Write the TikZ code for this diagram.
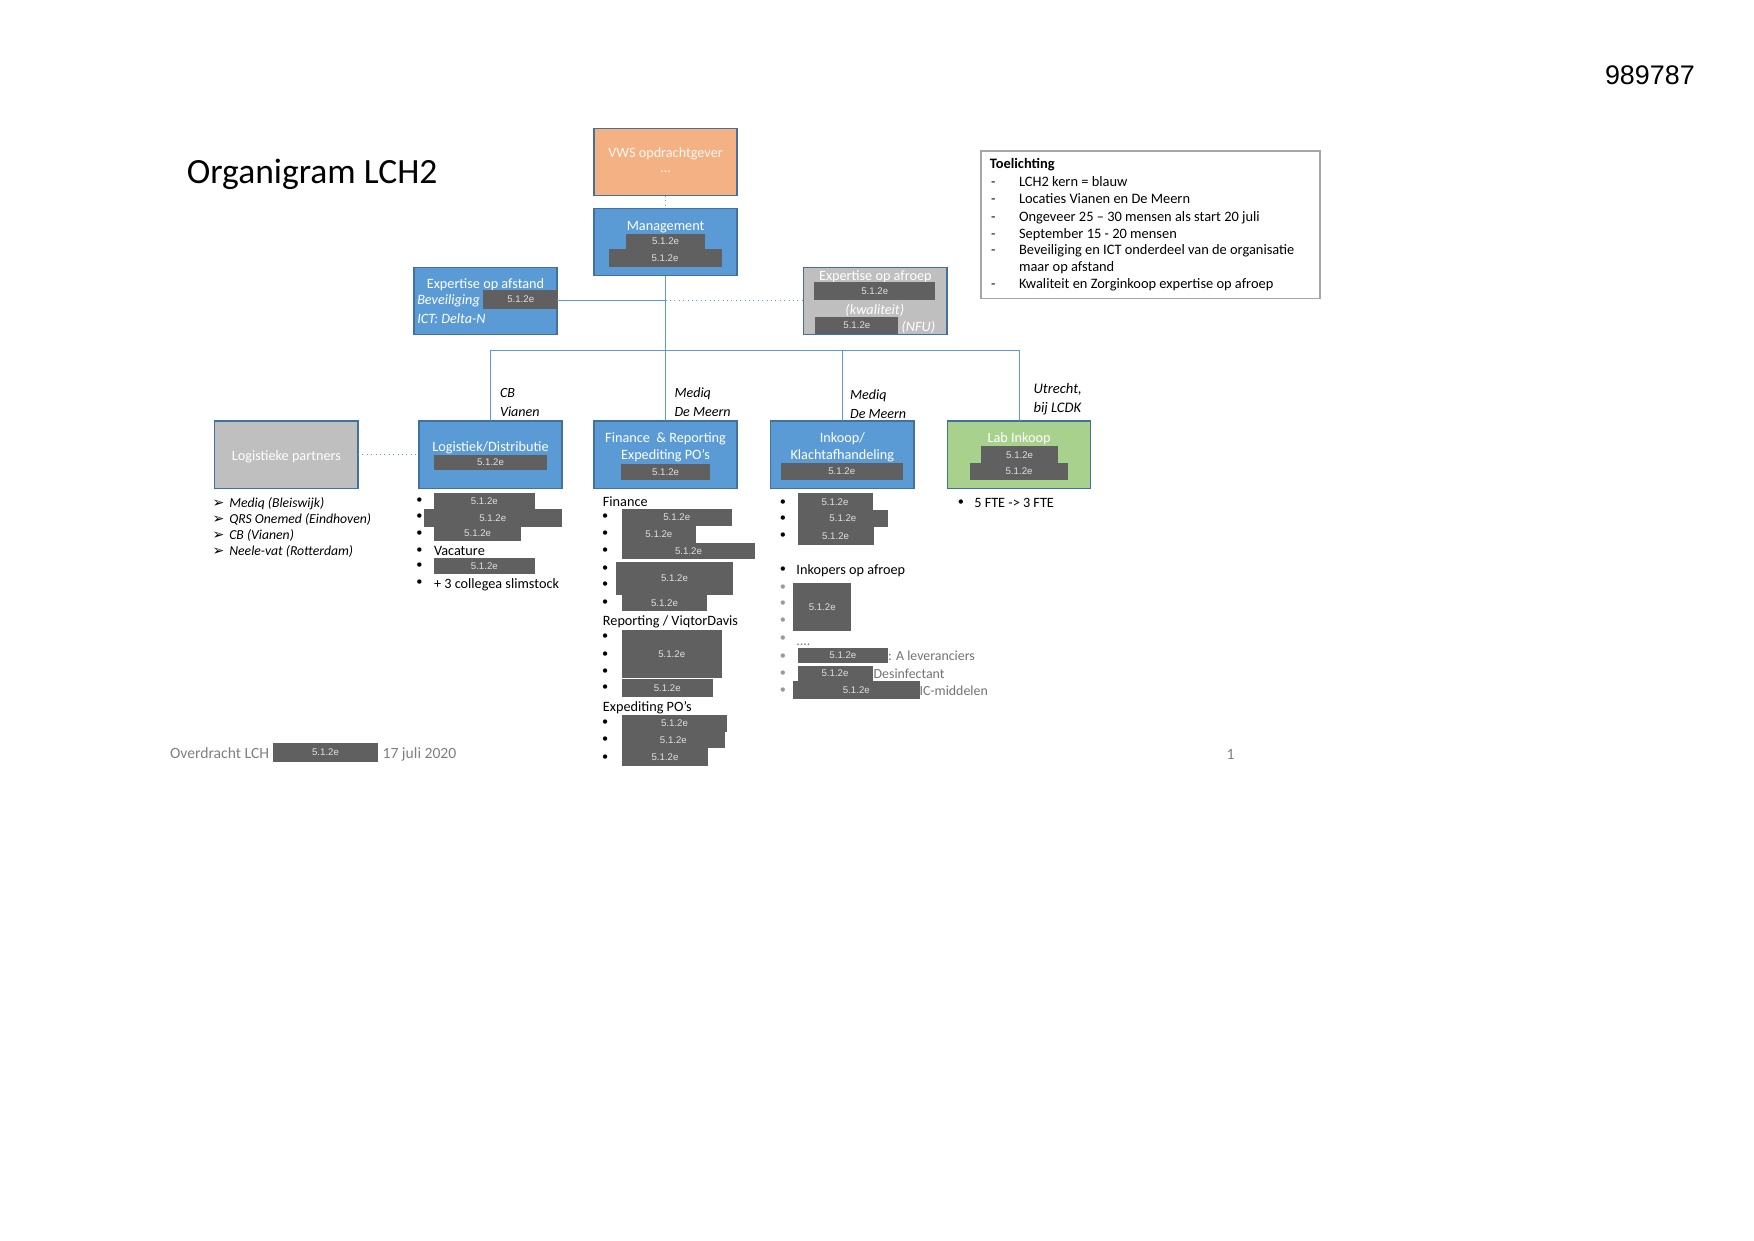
\documentclass[tikz,border=0pt]{standalone}
\usepackage{fontspec}
\setmainfont{Carlito}
\newfontfamily\arialfont{Liberation Sans}
\newfontfamily\symfont{DejaVu Sans}
\usetikzlibrary{positioning}

\definecolor{boxblue}{HTML}{5B9BD5}
\definecolor{edgeblue}{HTML}{41719C}
\definecolor{vwsorange}{HTML}{F4B183}
\definecolor{partgrey}{HTML}{BFBFBF}
\definecolor{labgreen}{HTML}{A9D18E}
\definecolor{redactgrey}{HTML}{606060}
\definecolor{footgrey}{HTML}{7F7F7F}

\begin{document}
\begin{tikzpicture}[x=0.022372cm, y=-0.022372cm,
	nosep/.style={inner sep=0pt, outer sep=0pt},
	bw/.style={minimum width={#1*0.022372cm}},
	bh/.style={minimum height={#1*0.022372cm}},
	orgbox/.style={rectangle, nosep, bw=128, bh=60, fill=boxblue, draw=edgeblue, line width=0.8pt},
	boxtext/.style={nosep, yshift=-0.8pt, text=white, font=\fontsize{8.1}{9.5}\selectfont},
	itx/.style={font=\itshape\fontsize{8.1}{9.5}\selectfont},
	itl/.style={font=\itshape\fontsize{7.8}{9}\selectfont},
	redact/.style={rectangle, nosep, fill=redactgrey, text=white!88!black, font=\arialfont\fontsize{5.5}{6}\selectfont},
	txt/.style={anchor=west, nosep, yshift=-0.7pt, text height=0.7em, text depth=0.22em, font=\fontsize{8.1}{9}\selectfont},
	notetxt/.style={txt, font=\fontsize{8.2}{9}\selectfont},
	loc/.style={anchor=west, nosep, yshift=-0.6pt, align=left, font=\itshape\fontsize{8}{10.8}\selectfont},
	bul/.style={nosep, font=\fontsize{7}{8}\selectfont},
	link/.style={draw=boxblue, line width=0.5pt}
]

\useasboundingbox (0,0) rectangle (1568,1109);

% Header
\node[anchor=west, nosep, font=\fontsize{20.2}{24}\selectfont] (title) at (167,156) {Organigram LCH2};
\node[anchor=east, nosep, font=\arialfont\fontsize{15.3}{18}\selectfont] (docnr) at (1515,67) {989787};

% Top boxes
\node[orgbox, fill=vwsorange] (vws) at (595,145) {};
\node[boxtext, text=white!92!vwsorange] (vwst) at (595,136) {VWS opdrachtgever};
\node[boxtext, text=white!92!vwsorange] (vwsd) at (595,152) {...};

\node[orgbox] (mgmt) at (595,216.5) {};
\node[boxtext] (mgmtt) at (595,202) {Management};
\node[redact, bw=70, bh=13] (m1) at (595,216) {5.1.2e};
\node[redact, bw=101, bh=16] (m2) at (594.5,230.5) {5.1.2e};

\node[orgbox] (afst) at (434,269) {};
\node[boxtext] (afstt) at (434,253) {Expertise op afstand};
\node[boxtext, itx, anchor=west] (bev) at (373,268) {Beveiliging};
\node[redact, bw=67, bh=17] (a1) at (465.5,267.5) {5.1.2e};
\node[boxtext, itx, anchor=west] (ict) at (373,284) {ICT: Delta-N};

\node[orgbox, fill=partgrey] (afr) at (782.5,269) {};
\node[boxtext] (afrt) at (782.5,246) {Expertise op afroep};
\node[redact, bw=108, bh=16] (e1) at (782,260) {5.1.2e};
\node[boxtext, itx] (kw) at (782,276) {(kwaliteit)};
\node[redact, bw=74, bh=16] (e2) at (766,291) {5.1.2e};
\node[boxtext, itx, anchor=west] (nfu) at (806,291) {(NFU)};

% Toelichting
\node[rectangle, nosep, bw=303, bh=132, draw=black!35, line width=0.8pt] (note) at (1028.5,201) {};
\node[notetxt, font=\bfseries\fontsize{8.2}{9}\selectfont] (notet) at (885,146) {Toelichting};
\foreach \y/\t in {162/LCH2 kern = blauw, 177/Locaties Vianen en De Meern,
	193/Ongeveer 25 – 30 mensen als start 20 juli, 208/September 15 - 20 mensen,
	223/Beveiliging en ICT onderdeel van de organisatie,
	253/Kwaliteit en Zorginkoop expertise op afroep}
{
	\node[notetxt] (d\y) at (886,\y) {-};
	\node[notetxt] (n\y) at (911,\y) {\t};
}
\node[notetxt] (n238) at (911,238) {maar op afstand};

% Second row boxes
\node[orgbox, fill=partgrey] (lp) at (256,406.5) {};
\node[boxtext] (lpt) at (256,407) {Logistieke partners};

\node[orgbox] (log) at (438.5,406.5) {};
\node[boxtext] (logt) at (438.5,399) {Logistiek/Distributie};
\node[redact, bw=101, bh=13] (l0) at (438.5,413.5) {5.1.2e};

\node[orgbox] (fin) at (595,406.5) {};
\node[boxtext, align=center] (fint) at (595,398.5) {Finance \ \& Reporting\\Expediting PO’s};
\node[redact, bw=80, bh=14] (f0) at (595,422) {5.1.2e};

\node[orgbox] (ink) at (753,406.5) {};
\node[boxtext, align=center] (inkt) at (753,398.5) {Inkoop/\\Klachtafhandeling};
\node[redact, bw=109, bh=15] (i0) at (752.5,421.5) {5.1.2e};

\node[orgbox, fill=labgreen] (lab) at (911,406.5) {};
\node[boxtext] (labt) at (911,391) {Lab Inkoop};
\node[redact, bw=69, bh=15] (b1) at (911.5,406.5) {5.1.2e};
\node[redact, bw=88, bh=15] (b2) at (911,421.5) {5.1.2e};

% Locations
\node[loc] (cb) at (447,359) {CB\\Vianen};
\node[loc] (med1) at (603,359) {Mediq\\De Meern};
\node[loc] (med2) at (760,360) {Mediq\\De Meern};
\node[loc, font=\itshape\fontsize{8.3}{10.8}\selectfont] (utr) at (924,356) {Utrecht,\\bij LCDK};

% Connectors
\coordinate (bus) at (595,313);
\draw[link, dotted] (vws) -- (mgmt);
\draw[link] (mgmt) -- (fin);
\draw[link] (log.north) |- (bus) -| (lab.north);
\draw[link] (ink.north) -- (ink.north |- bus);
\draw[link] (afst.east) -- (afst.east -| mgmt.south);
\draw[link, dotted] (afr.west -| mgmt.south) -- (afr.west);
\draw[link, dotted] (lp) -- (log);

% Logistieke partners list
\foreach \y/\t [count=\i] in {449/Mediq (Bleiswijk), 463/QRS Onemed (Eindhoven),
	477/CB (Vianen), 492/Neele-vat (Rotterdam)}
{
	\node[txt, font=\symfont\fontsize{8}{8}\selectfont] (pa\i) at (190,\y) {➢};
	\node[txt, itl] (pt\i) at (205,\y) {\t};
}

% Logistiek list
\foreach \y in {448,462,477,492,506,521}
	\node[bul] (lb\y) at (375,\y) {•};
\foreach \n/\x/\y/\w/\h in {l1/433/448/90/14, l2/440.5/463/123/16, l3/427/477/78/14, l4/433/506/90/14}
	\node[redact, bw=\w, bh=\h] (\n) at (\x,\y) {5.1.2e};
\node[txt] (vac) at (388,492) {Vacature};
\node[txt] (slim) at (388,521) {+ 3 collegea slimstock};

% Finance list
\node[txt] (finh) at (539,448) {Finance};
\node[txt] (reph) at (539,554) {Reporting / ViqtorDavis};
\node[txt] (exph) at (539,631) {Expediting PO’s};
\foreach \y in {462,477,492,508,523,539,569,585,600,615,646,661,677}
	\node[bul] (fb\y) at (541,\y) {•};
\foreach \n/\x/\y/\w/\h in {f1/605/462.5/98/15, f2/589/477.5/66/15, f3/615.5/492.5/119/15,
	f4/603/517/104/30, f5/594/539/76/14, f6/600.5/584.5/89/43, f7/596.5/615/81/16,
	f8/603/646.5/94/15, f9/602/661.5/92/15, f10/594.5/677/77/16}
	\node[redact, bw=\w, bh=\h] (\n) at (\x,\y) {5.1.2e};

% Inkoop list
\foreach \y in {449,464,479,509}
	\node[bul] (ib\y) at (700,\y) {•};
\foreach \y in {525,540,555,571,587,602,617}
	\node[bul, text=black!40] (ig\y) at (700,\y) {•};
\foreach \n/\x/\y/\w/\h in {i1/746.5/448.5/67/15, i2/753.5/463.5/81/15, i3/747/479/68/16,
	i4/735/542.5/52/43, i5/753.5/586/81/14, i6/746.5/602/67/14, i7/765.5/617/113/16}
	\node[redact, bw=\w, bh=\h] (\n) at (\x,\y) {5.1.2e};
\node[txt] (inkop) at (712,509) {Inkopers op afroep};
\node[txt, text=black!55, font=\fontsize{7.9}{9}\selectfont] (dots) at (712,572) {....};
\node[txt, text=black!55, font=\fontsize{7.9}{9}\selectfont] (alev) at (794,586) {: A leveranciers};
\node[txt, text=black!55, font=\fontsize{7.9}{9}\selectfont] (desi) at (781,602) {Desinfectant};
\node[txt, text=black!55, font=\fontsize{7.9}{9}\selectfont] (icm) at (822,617) {IC-middelen};

% Lab list
\node[bul] (lbb) at (859,449) {•};
\node[txt] (fte) at (871,449) {5 FTE -> 3 FTE};

% Footer
\node[txt, text=footgrey, font=\fontsize{8.9}{10}\selectfont] (foot1) at (152,673) {Overdracht LCH};
\node[redact, bw=94, bh=17] (fr) at (291,672.5) {5.1.2e};
\node[txt, text=footgrey, font=\fontsize{8.9}{10}\selectfont] (foot2) at (342,673) {17 juli 2020};
\node[nosep, yshift=-0.7pt, text=footgrey, font=\fontsize{8.9}{10}\selectfont] (page) at (1100,673) {1};

\end{tikzpicture}
\end{document}
